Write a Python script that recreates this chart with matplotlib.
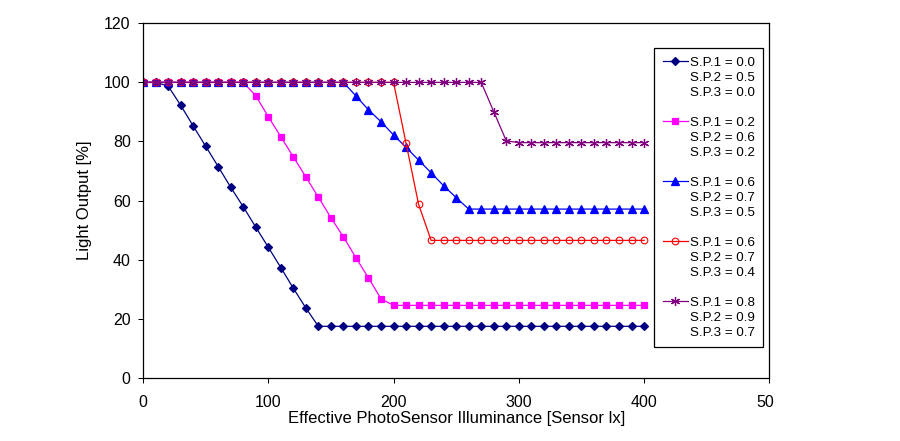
import matplotlib
matplotlib.use('agg')
import matplotlib.pyplot as plt
from matplotlib.lines import Line2D
from matplotlib.transforms import Bbox, TransformedBbox

# data
illuminance = list(range(0, 410, 10))

light_sp1 = [100, 100, 98.8, 92.3, 85.3, 78.4, 71.5, 64.5, 57.9, 51.0, 44.2, 37.3, 30.3, 23.6] + [17.4] * 27
light_sp2 = [100] * 9 + [95.5, 88.4, 81.6, 74.8, 68.0, 61.1, 54.2, 47.7, 40.6, 33.8, 26.7] + [24.5] * 21
light_sp3 = [100] * 17 + [95.4, 90.7, 86.7, 82.2, 78.0, 73.7, 69.4, 65.0, 61.0] + [57.1] * 15
light_sp4 = [100] * 21 + [79.4, 58.7] + [46.5] * 18
light_sp5 = [100] * 28 + [90.1, 80.2] + [79.6] * 11

series = [light_sp1, light_sp2, light_sp3, light_sp4, light_sp5]
legend_text = [
    ['S.P.1 = 0.0', 'S.P.2 = 0.5', 'S.P.3 = 0.0'],
    ['S.P.1 = 0.2', 'S.P.2 = 0.6', 'S.P.3 = 0.2'],
    ['S.P.1 = 0.6', 'S.P.2 = 0.7', 'S.P.3 = 0.5'],
    ['S.P.1 = 0.6', 'S.P.2 = 0.7', 'S.P.3 = 0.4'],
    ['S.P.1 = 0.8', 'S.P.2 = 0.9', 'S.P.3 = 0.7'],
]
xticks = [0, 100, 200, 300, 400, 500]
xticklabels = ['0', '100', '200', '300', '400', '500']
yticks = [0, 20, 40, 60, 80, 100, 120]

# styles
colors = ['#000080', '#FF00FF', '#0000FF', '#FF0000', '#800080']
markers = ['D', 's', '^', 'o', (6, 2, 0)]
msizes = [4.2, 4.5, 5.5, 4.8, 6.5]

plt.rcParams['font.family'] = ['Liberation Sans', 'DejaVu Sans']

fig = plt.figure(figsize=(9, 4.41), dpi=100)
ax = fig.add_axes([0.1589, 0.1435, 0.6959, 0.8036])

lines = []
for ys, c, m, ms in zip(series, colors, markers, msizes):
    open_marker = (m == 'o')
    ln, = ax.plot(illuminance, ys, color=c, lw=0.9, marker=m, markersize=ms,
                  markerfacecolor='none' if open_marker else c,
                  markeredgecolor=c, markeredgewidth=0.8 if open_marker else 0.9)
    lines.append(ln)

ax.set_xlim(0, 500)
ax.set_ylim(0, 120)
ax.set_xticks(xticks)
ax.set_xticklabels(xticklabels)
ax.set_yticks(yticks)
ax.tick_params(direction='out', length=3.4, width=0.75, labelsize=11.5)
ax.tick_params(axis='x', pad=9)
ax.tick_params(axis='y', pad=5.5)
for sp in ax.spines.values():
    sp.set_linewidth(0.9)

ax.set_xlabel('Effective PhotoSensor Illuminance [Sensor lx]', fontsize=12, labelpad=1)
ax.set_ylabel('Light Output [%]', fontsize=12, labelpad=9)

# the last x tick label is cut off in the original
last = ax.xaxis.get_major_ticks()[-1].label1
last.set_clip_box(TransformedBbox(Bbox.from_extents(0, 0, 774 / 900, 1), fig.transFigure))
last.set_clip_on(True)

# legend: one row per text line, blank row between entries
blank = Line2D([], [], linestyle='none')
handles, labels = [], []
for i, (ln, txt) in enumerate(zip(lines, legend_text)):
    handles += [ln, blank, blank]
    labels += txt
    if i < len(lines) - 1:
        handles.append(blank)
        labels.append(' ')

leg = fig.legend(handles, labels, loc='upper left',
                 bbox_to_anchor=(654.3 / 900, 1 - 47.7 / 441),
                 bbox_transform=fig.transFigure, borderaxespad=0,
                 fontsize=9.6, numpoints=1, handlelength=1.85,
                 handletextpad=0.15, labelspacing=0.2, borderpad=0.65,
                 fancybox=False, framealpha=1, edgecolor='black')
leg.get_frame().set_linewidth(0.9)

fig.savefig('out.png', dpi=100, facecolor='white')
